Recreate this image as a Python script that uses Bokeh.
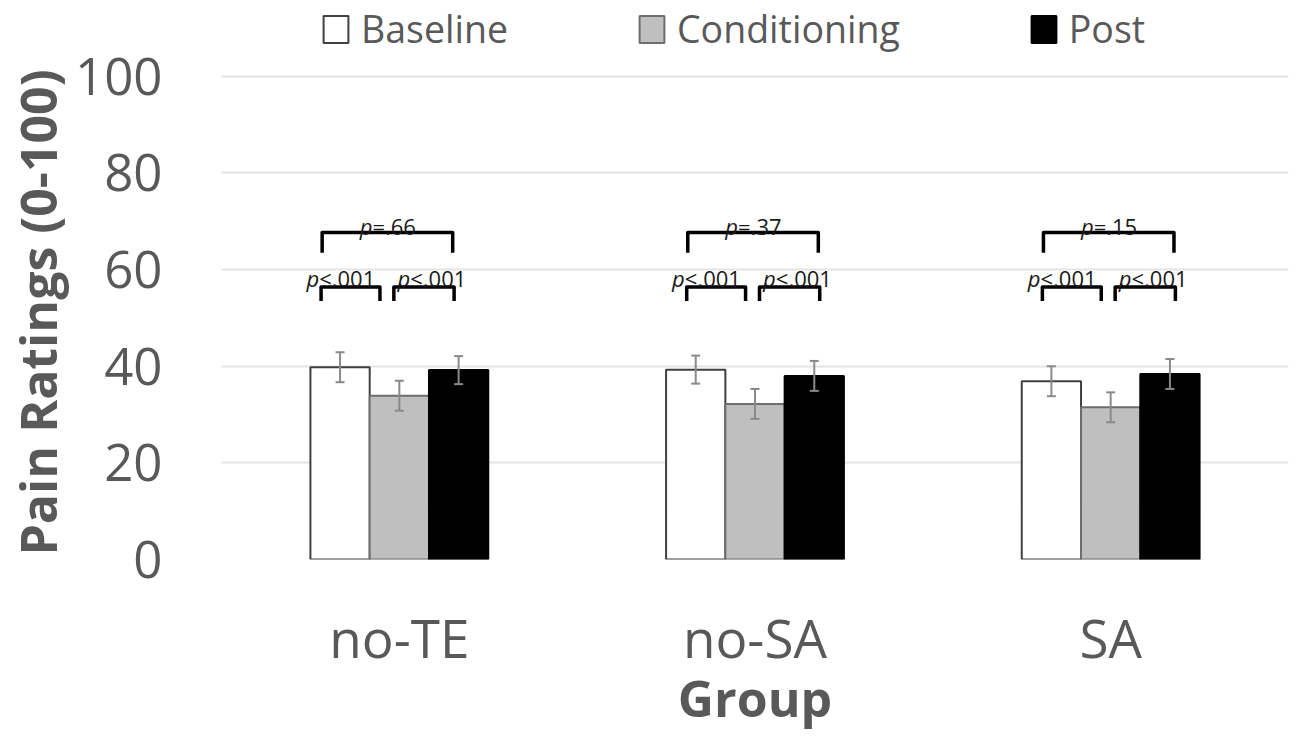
from bokeh.plotting import figure
from bokeh.models import (ColumnDataSource, Whisker, TeeHead, Legend, LegendItem,
                          FixedTicker, Range1d)
from bokeh.core.properties import value
from bokeh.embed import file_html
from bokeh.resources import INLINE

# ---------------- data ----------------
groups = ["no-TE", "no-SA", "SA"]
phases = ["Baseline", "Conditioning", "Post"]
baseline = [39.8, 39.3, 36.9]
conditioning = [33.9, 32.2, 31.5]
post = [39.2, 38.0, 38.4]
baseline_err = [3.1, 2.9, 3.1]
conditioning_err = [3.1, 3.1, 3.1]
post_err = [2.9, 3.1, 3.1]
p_overall = ["=.66", "=.37", "=.15"]      # Baseline vs Post
p_base_cond = ["<.001", "<.001", "<.001"]  # Baseline vs Conditioning
p_cond_post = ["<.001", "<.001", "<.001"]  # Conditioning vs Post
y_ticks = [0, 20, 40, 60, 80, 100]

# ---------------- style ----------------
FONT = "Open Sans"
GREY_TXT = "#595959"
fills = ["#ffffff", "#bfbfbf", "#000000"]
lines = ["#404040", "#6e6e6e", "#000000"]
bar_w = 1 / 6
offsets = [-1 / 6, 0.0, 1 / 6]
group_shift = [-0.028, 0.0, 0.0]          # hand-placed annotation shift per group
# bracket geometry (category units / value units)
big = dict(x0=-0.189, x1=0.178, top=67.7, leg=63.5, ty=69.1, tx=-0.005)
small_l = dict(x0=-0.192, x1=-0.0265, top=56.4, leg=53.5, ty=58.3, tx=-0.137)
small_r = dict(x0=0.0126, x1=0.182, top=56.4, leg=53.5, ty=58.3, tx=0.119)
P_SIZE = 22

W, H = 1290, 734
FRAME_L, FRAME_R, FRAME_B = 221, 1288, 560
Y100 = 76                                  # pixel row of the 100 gridline
px_per_unit = (FRAME_B - Y100) / 100.0
y_top = 100 + Y100 / px_per_unit           # frame reaches the top so the legend is visible

p = figure(width=W, height=H, x_range=Range1d(0, 3), y_range=Range1d(0, y_top),
           output_backend="svg", toolbar_location=None,
           min_border_left=FRAME_L, min_border_right=W - FRAME_R, min_border_top=0,
           min_border_bottom=H - FRAME_B)
p.outline_line_color = None
p.background_fill_color = "white"
p.border_fill_color = "white"

# grid
p.xgrid.visible = False
p.ygrid.ticker = FixedTicker(ticks=y_ticks)
p.ygrid.grid_line_color = "#e4e4e4"
p.ygrid.grid_line_width = 2

# axes
centers = [i + 0.5 for i in range(len(groups))]
p.xaxis.ticker = FixedTicker(ticks=centers)
p.xaxis.major_label_overrides = {c: g for c, g in zip(centers, groups)}
p.yaxis.ticker = FixedTicker(ticks=y_ticks)
for ax in (p.xaxis, p.yaxis):
    ax.axis_line_color = None
    ax.major_tick_line_color = None
    ax.minor_tick_line_color = None
    ax.major_tick_out = 0
    ax.major_tick_in = 0
    ax.major_label_text_font = FONT
    ax.major_label_text_color = GREY_TXT
    ax.axis_label_text_font = FONT
    ax.axis_label_text_font_style = "bold"
    ax.axis_label_text_color = GREY_TXT

p.xaxis.axis_label = "Group"
p.xaxis.major_label_text_font_size = "53px"
p.xaxis.axis_label_text_font_size = "50px"
p.xaxis.major_label_standoff = 41
p.xaxis.axis_label_standoff = -13

# trailing no-break spaces nudge the centred title down to where the reference has it
p.yaxis.axis_label = "Pain Ratings (0-100)" + "\u00a0" * 5
p.yaxis.major_label_text_font_size = "51px"
p.yaxis.axis_label_text_font_size = "50px"
p.yaxis.major_label_standoff = 59
p.yaxis.axis_label_standoff = 0

# bars + error bars
series = [baseline, conditioning, post]
errs = [baseline_err, conditioning_err, post_err]
renderers = []
for k, (vals, err) in enumerate(zip(series, errs)):
    xs = [c + offsets[k] for c in centers]
    src = ColumnDataSource(dict(x=xs, top=vals,
                                upper=[v + e for v, e in zip(vals, err)],
                                lower=[v - e for v, e in zip(vals, err)]))
    r = p.vbar(x="x", top="top", bottom=0, width=bar_w, source=src,
               fill_color=fills[k], line_color=lines[k], line_width=2)
    renderers.append(r)
    wk = Whisker(source=src, base="x", upper="upper", lower="lower",
                 line_color="#8a8a8a", line_width=2, level="overlay",
                 upper_head=TeeHead(size=9, line_color="#8a8a8a", line_width=2),
                 lower_head=TeeHead(size=9, line_color="#8a8a8a", line_width=2))
    p.add_layout(wk)

# significance brackets
bx, by = [], []
for i, c in enumerate(centers):
    for b in (big, small_l, small_r):
        x0 = c + group_shift[i] + b["x0"]
        x1 = c + group_shift[i] + b["x1"]
        bx.append([x0, x0, x1, x1])
        by.append([b["leg"], b["top"], b["top"], b["leg"]])
p.multi_line(xs=bx, ys=by, line_color="black", line_width=3.5, line_join="round")

# p-value labels: italic "p" + upright remainder
adv = {"p": 0.60, "<": 0.572, "=": 0.572, ".": 0.266}
def width_px(s):
    return sum(adv.get(ch, 0.572) for ch in s) * P_SIZE

px_, py_, pt_, pofs = [], [], [], []
for i, c in enumerate(centers):
    for b, txt in ((big, p_overall[i]), (small_l, p_base_cond[i]), (small_r, p_cond_post[i])):
        total = width_px("p") + width_px(txt)
        px_.append(c + group_shift[i] + b["tx"])
        py_.append(b["ty"])
        pt_.append(txt)
        pofs.append(-total / 2 + width_px("p"))
tsrc = ColumnDataSource(dict(x=px_, y=py_, t=pt_, o=pofs, pp=["p"] * len(pt_)))
p.text(x="x", y="y", text="pp", x_offset="o", source=tsrc, text_align="right",
       text_baseline="alphabetic", text_font=value(FONT), text_font_style="italic",
       text_font_size=f"{P_SIZE}px", text_color="#1a1a1a")
p.text(x="x", y="y", text="t", x_offset="o", source=tsrc, text_align="left",
       text_baseline="alphabetic", text_font=value(FONT),
       text_font_size=f"{P_SIZE}px", text_color="#1a1a1a")

# legend above the plotted values (swatches are drawn at 80% of the glyph box)
legend = Legend(items=[LegendItem(label=ph, renderers=[r]) for ph, r in zip(phases, renderers)],
                orientation="horizontal", location=(320 - FRAME_L, FRAME_B - 55),
                glyph_width=31, glyph_height=34, label_standoff=10, spacing=128,
                padding=0, margin=0, border_line_color=None, background_fill_alpha=0,
                label_text_font=FONT, label_text_font_size="37.5px",
                label_text_color=GREY_TXT)
p.add_layout(legend, "center")

open("out.html", "w").write(file_html(p, INLINE))
